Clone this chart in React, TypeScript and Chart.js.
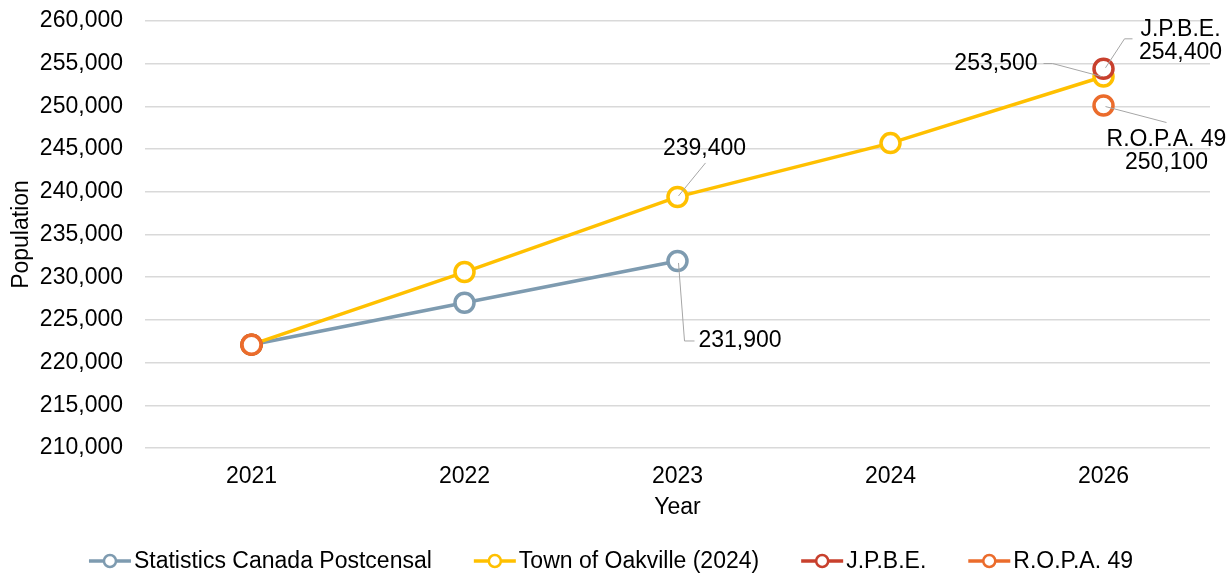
import React, { useEffect, useRef } from "react";
import { Chart, registerables } from "chart.js";

Chart.register(...registerables);

// ---------- data ----------
const years = ["2021", "2022", "2023", "2024", "2026"];
const statsCanada = [222100, 227000, 231900, null, null];
const townOakville = [222100, 230600, 239400, 245700, 253500];
const jpbe = [222100, null, null, null, 254400];
const ropa = [222100, null, null, null, 250100];
const seriesNames = [
  "Statistics Canada Postcensal",
  "Town of Oakville (2024)",
  "J.P.B.E.",
  "R.O.P.A. 49",
];
const yMin = 210000;
const yMax = 260000;
const yStep = 5000;
const xTitle = "Year";
const yTitle = "Population";

// ---------- styles ----------
const colors = ["#7E9BB0", "#FFC000", "#C8402D", "#EB6C2C"];
const FONT = "'Liberation Sans', Arial, sans-serif";
const FS = 23;
const TEXT = "#000000";
const LEADER = "#A6A6A6";

const fmt = (v: number) => v.toLocaleString("en-US");

// annotation placement (offsets relative to the point's pixel)
type Note = {
  series: number;
  index: number;
  withName: boolean;
  leader: [number, number][];
  textX: number;
  textY: number;
  align: CanvasTextAlign;
  lineGap: number;
};
const notes: Note[] = [
  { series: 1, index: 2, withName: false, leader: [[1, -1], [28, -34]], textX: 27, textY: -48, align: "center", lineGap: 23 },
  { series: 0, index: 2, withName: false, leader: [[1, 2], [7, 80], [17, 80]], textX: 21, textY: 80, align: "left", lineGap: 23 },
  { series: 1, index: 4, withName: false, leader: [[-60, -13], [-51, -13], [-2, 0]], textX: -66, textY: -13, align: "right", lineGap: 23 },
  { series: 2, index: 4, withName: true, leader: [[2, -1], [21, -30], [29, -30]], textX: 77, textY: -39, align: "center", lineGap: 23 },
  { series: 3, index: 4, withName: true, leader: [[2, 1], [63, 17]], textX: 63, textY: 34, align: "center", lineGap: 23 },
];

const seriesData = [statsCanada, townOakville, jpbe, ropa];

const notesPlugin = {
  id: "notes",
  afterDatasetsDraw(chart: any) {
    const ctx = chart.ctx;
    ctx.save();
    notes.forEach((n) => {
      const meta = chart.getDatasetMeta(n.series);
      const el = meta.data[n.index];
      const val = seriesData[n.series][n.index] as number;
      if (!el || val == null) return;
      const px = el.x;
      const py = el.y;
      ctx.strokeStyle = LEADER;
      ctx.lineWidth = 1;
      ctx.beginPath();
      n.leader.forEach(([dx, dy], i) => {
        if (i === 0) ctx.moveTo(px + dx, py + dy);
        else ctx.lineTo(px + dx, py + dy);
      });
      ctx.stroke();
      const lines = n.withName ? [seriesNames[n.series], fmt(val)] : [fmt(val)];
      ctx.fillStyle = TEXT;
      ctx.font = `${FS}px ${FONT}`;
      ctx.textAlign = n.align;
      ctx.textBaseline = "middle";
      lines.forEach((t, i) => {
        ctx.fillText(t, px + n.textX, py + n.textY + i * n.lineGap);
      });
    });
    ctx.restore();
  },
};

const legendPlugin = {
  id: "customLegend",
  afterDraw(chart: any) {
    const ctx = chart.ctx;
    ctx.save();
    ctx.font = `${FS}px ${FONT}`;
    const markerW = 42;
    const textGap = 3;
    const itemGap = 42;
    const widths = seriesNames.map((s) => markerW + textGap + ctx.measureText(s).width);
    const total = widths.reduce((a, b) => a + b, 0) + itemGap * (seriesNames.length - 1);
    let x = chart.width / 2 - total / 2 - 5;
    const y = 561;
    seriesNames.forEach((name, i) => {
      ctx.strokeStyle = colors[i];
      ctx.lineWidth = 3.5;
      ctx.beginPath();
      ctx.moveTo(x, y);
      ctx.lineTo(x + markerW, y);
      ctx.stroke();
      ctx.beginPath();
      ctx.arc(x + markerW / 2, y, 6, 0, Math.PI * 2);
      ctx.fillStyle = "#ffffff";
      ctx.fill();
      ctx.lineWidth = 2.5;
      ctx.stroke();
      ctx.fillStyle = TEXT;
      ctx.textAlign = "left";
      ctx.textBaseline = "middle";
      ctx.fillText(name, x + markerW + textGap, y + 1);
      x += widths[i] + itemGap;
    });
    ctx.restore();
  },
};

export default function App() {
  const ref = useRef<HTMLCanvasElement | null>(null);
  useEffect(() => {
    if (!ref.current) return;
    const orders = [4, 3, 2, 1];
    const chart = new Chart(ref.current, {
      type: "line",
      data: {
        labels: years,
        datasets: seriesData.map((d, i) => ({
          label: seriesNames[i],
          data: d,
          borderColor: colors[i],
          backgroundColor: colors[i],
          borderWidth: 3.5,
          pointRadius: 9.5,
          pointHoverRadius: 9.5,
          pointBorderWidth: 3.5,
          pointBackgroundColor: "#ffffff",
          pointBorderColor: colors[i],
          spanGaps: false,
          tension: 0,
          order: orders[i],
        })),
      },
      options: {
        responsive: false,
        animation: false,
        devicePixelRatio: 1,
        layout: { padding: { top: 21, right: 22, bottom: 50, left: 0 } },
        plugins: {
          legend: { display: false },
          tooltip: { enabled: false },
        },
        scales: {
          x: {
            type: "category",
            offset: true,
            grid: { display: false, drawTicks: false },
            border: { display: false },
            ticks: { color: TEXT, font: { family: FONT, size: FS }, padding: 15, maxRotation: 0 },
            title: { display: true, text: xTitle, color: TEXT, font: { family: FONT, size: FS }, padding: { top: 0, bottom: 3 } },
            afterFit: (s: any) => { s.height = 76; s.paddingLeft = 0; s.paddingRight = 0; },
          },
          y: {
            min: yMin,
            max: yMax,
            grid: { color: "#D9D9D9", lineWidth: 1.5, drawTicks: false },
            border: { display: false },
            ticks: {
              stepSize: yStep,
              color: TEXT,
              font: { family: FONT, size: FS },
              padding: 22,
              callback: (v: any) => fmt(Number(v)),
            },
            title: { display: true, text: yTitle, color: TEXT, font: { family: FONT, size: FS }, padding: { top: 8, bottom: 0 } },
            afterFit: (s: any) => { s.width = 145; s.paddingTop = 0; s.paddingBottom = 0; },
          },
        },
      },
      plugins: [notesPlugin, legendPlugin],
    });
    return () => chart.destroy();
  }, []);
  return (
    <div style={{ position: "absolute", left: 0, top: 0, width: 1232, height: 574, background: "#fff" }}>
      <canvas ref={ref} width={1232} height={574} />
    </div>
  );
}
